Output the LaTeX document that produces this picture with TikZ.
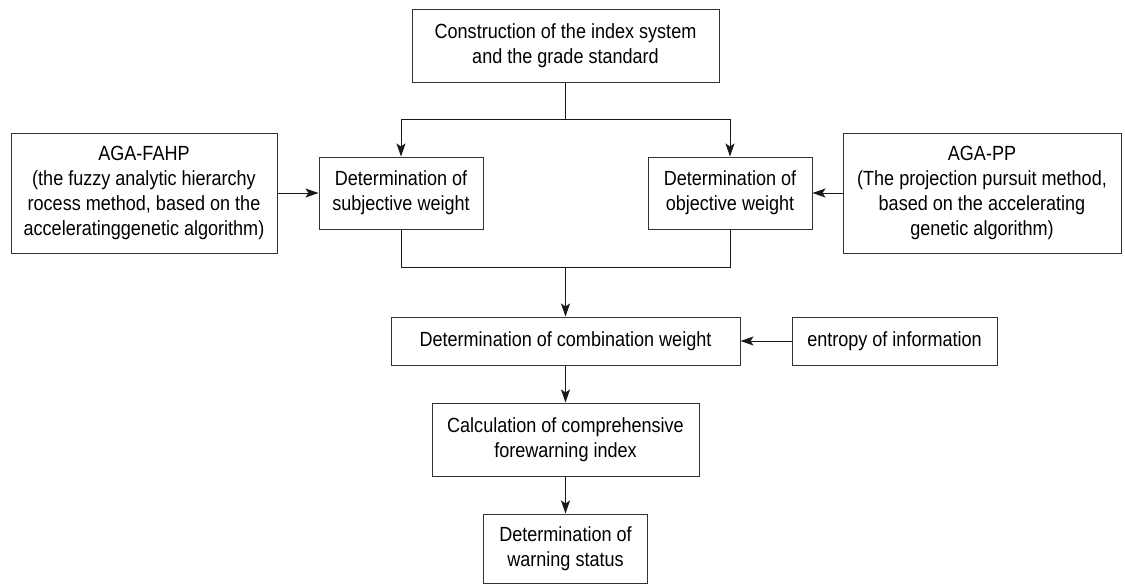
\documentclass[tikz,border=0pt]{standalone}
\usepackage{fontspec}
\setmainfont[FakeStretch=0.88]{Liberation Sans}
\usetikzlibrary{arrows.meta}
\tikzset{
  box/.style={draw=black!80, line width=1pt, inner sep=0pt, align=center,
    font=\fontsize{20.5}{25}\selectfont},
  conn/.style={draw=black!90, line width=1pt},
  arr/.style={conn, -{Stealth[length=13pt,width=9pt,inset=3pt]}}
}
\begin{document}
\begin{tikzpicture}[x=1pt,y=-1pt]
\useasboundingbox (0,0) rectangle (1125,584);
\node[box, minimum width=307pt, minimum height=73pt] (top) at (565.5,45.5)
  {Construction of the index system\\and the grade standard};
\node[box, minimum width=266pt, minimum height=120pt] (left) at (144,193)
  {AGA-FAHP\\(the fuzzy analytic hierarchy\\rocess method, based on the\\acceleratinggenetic algorithm)};
\node[box, minimum width=164pt, minimum height=72pt] (subj) at (401,193)
  {Determination of\\subjective weight};
\node[box, minimum width=164pt, minimum height=72pt] (obj) at (730,193)
  {Determination of\\objective weight};
\node[box, minimum width=278pt, minimum height=120pt] (right) at (982,193)
  {AGA-PP\\(The projection pursuit method,\\based on the accelerating\\genetic algorithm)};
\node[box, minimum width=349pt, minimum height=48pt] (comb) at (565.5,341)
  {Determination of combination weight};
\node[box, minimum width=205pt, minimum height=48pt] (ent) at (894.5,341)
  {entropy of information};
\node[box, minimum width=267pt, minimum height=73pt] (calc) at (565.5,439.5)
  {Calculation of comprehensive\\forewarning index};
\node[box, minimum width=164pt, minimum height=69pt] (warn) at (565.5,548.5)
  {Determination of\\warning status};
\coordinate (j1) at (565.5,119);
\coordinate (j2) at (565.5,267);
\draw[conn] (top.south) -- (j1);
\draw[arr] (j1) -| (subj.north);
\draw[arr] (j1) -| (obj.north);
\draw[arr] (left.east) -- (subj.west);
\draw[arr] (right.west) -- (obj.east);
\draw[conn] (subj.south) |- (j2);
\draw[conn] (obj.south) |- (j2);
\draw[arr] (j2) -- (comb.north);
\draw[arr] (ent.west) -- (comb.east);
\draw[arr] (comb.south) -- (calc.north);
\draw[arr] (calc.south) -- (warn.north);
\end{tikzpicture}
\end{document}
